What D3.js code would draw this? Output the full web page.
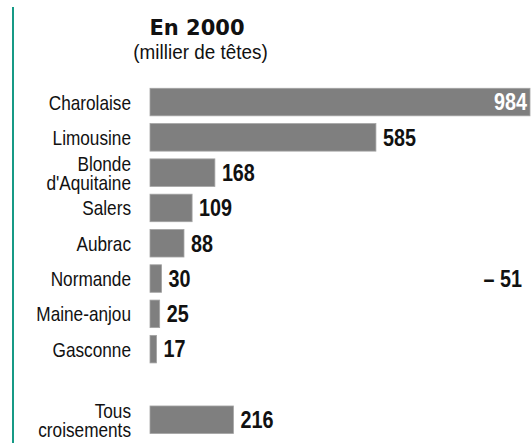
<!DOCTYPE html>
<html>
<head>
<meta charset="utf-8">
<script src="https://cdn.jsdelivr.net/npm/d3@7"></script>
<style>
  html, body { margin: 0; padding: 0; background: #ffffff; }
  svg { display: block; }
</style>
</head>
<body>
<svg id="chart" width="532" height="443"></svg>
<script>
// ---- data ----
const title = "En 2000";
const subtitle = "(millier de têtes)";
const categories = ["Charolaise", "Limousine", "Blonde\nd'Aquitaine", "Salers", "Aubrac",
                    "Normande", "Maine-anjou", "Gasconne", "", "Tous\ncroisements"];
const values = [984, 585, 168, 109, 88, 30, 25, 17, null, 216];
const changeCategories = ["Normande"];
const changeLabels = ["– 51"];

// ---- layout ----
const W = 532, H = 443;
const svg = d3.select("#chart");
const sansFont = "'Liberation Sans', Arial, sans-serif";

svg.append("rect").attr("width", W).attr("height", H).attr("fill", "#ffffff");

// left teal rule
svg.append("line")
  .attr("x1", 13).attr("x2", 13).attr("y1", 7).attr("y2", H)
  .attr("stroke", "#169a86").attr("stroke-width", 2);

const x = d3.scaleLinear().domain([0, 984]).range([150, 530]);
const y = d3.scaleBand().domain(categories.map((c, i) => i))
  .range([84.4, 437.4]).paddingInner(0.22).paddingOuter(0.11);

// condensed text helper (horizontal squeeze of a real text element)
function ctext(parent, px, py, sx) {
  return parent.append("g")
    .attr("transform", `translate(${px},${py}) scale(${sx},1)`)
    .append("text");
}

// titles
svg.append("text").attr("x", 197).attr("y", 35)
  .attr("text-anchor", "middle")
  .attr("font-family", "'DejaVu Sans', sans-serif").attr("font-weight", "bold")
  .attr("font-size", 21).attr("fill", "#111").text(title);
ctext(svg, 200.5, 59, 0.9)
  .attr("text-anchor", "middle")
  .attr("font-family", sansFont)
  .attr("font-size", 21).attr("fill", "#111").text(subtitle);

const rows = categories.map((c, i) => ({ c, i, v: values[i] })).filter(d => d.v !== null);

// bars
svg.append("g").selectAll("rect").data(rows).join("rect")
  .attr("x", x(0))
  .attr("y", d => y(d.i))
  .attr("width", d => x(d.v) - x(0))
  .attr("height", y.bandwidth())
  .attr("fill", "#7f7f7f")
  .attr("stroke", "#a3a3a3").attr("stroke-width", 0.8);

// category labels
const catG = svg.append("g");
rows.forEach(d => {
  const lines = d.c.split("\n");
  const cy = y(d.i) + y.bandwidth() / 2;
  const lh = 19;
  const t = ctext(catG, 131, cy + 7.5, 0.82)
    .attr("text-anchor", "end")
    .attr("font-family", sansFont)
    .attr("font-size", 21).attr("fill", "#111");
  lines.forEach((ln, k) => {
    const off = (k - (lines.length - 1) / 2) * lh;
    t.append("tspan").attr("x", 0).attr("y", off).text(ln);
  });
});

// value labels
const maxV = d3.max(values);
const valG = svg.append("g");
rows.forEach(d => {
  const inside = d.v === maxV;
  ctext(valG, inside ? x(d.v) - 3 : x(d.v) + 7, y(d.i) + y.bandwidth() / 2 + 8.3, 0.86)
    .attr("text-anchor", inside ? "end" : "start")
    .attr("font-family", sansFont).attr("font-weight", "bold")
    .attr("font-size", 23)
    .attr("fill", inside ? "#ffffff" : "#111")
    .text(d.v);
});

// change annotation
changeCategories.forEach((c, k) => {
  const i = categories.indexOf(c);
  ctext(svg, 522, y(i) + y.bandwidth() / 2 + 8.3, 0.86)
    .attr("text-anchor", "end")
    .attr("font-family", sansFont).attr("font-weight", "bold")
    .attr("font-size", 23).attr("fill", "#111")
    .text(changeLabels[k]);
});
</script>
</body>
</html>
